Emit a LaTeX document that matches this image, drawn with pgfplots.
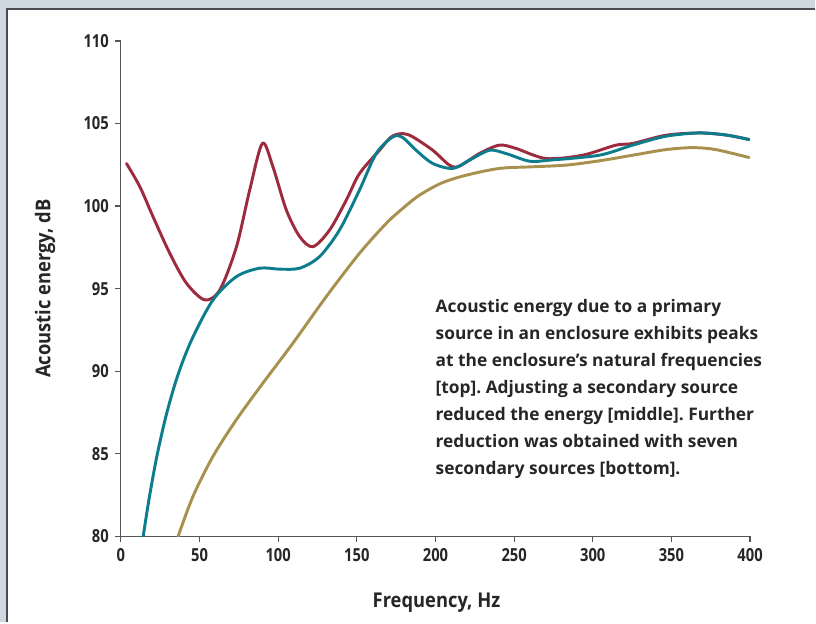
\documentclass[border=0pt]{standalone}
\usepackage{fontspec}
\setmainfont{Open Sans}
\newfontfamily\condfont{Open Sans}[FakeStretch=0.82]
\newfontfamily\labfont{Open Sans}[FakeStretch=0.9]
\usepackage{pgfplots}
\pgfplotsset{compat=1.18}

\definecolor{topred}{HTML}{9E2A3E}
\definecolor{midteal}{HTML}{0C7D8D}
\definecolor{lowgold}{HTML}{A8904E}
\definecolor{framegray}{HTML}{CFD8E1}
\definecolor{framedark}{HTML}{4A4A50}
\definecolor{axisgray}{HTML}{555555}

\begin{document}
\frenchspacing
\begin{tikzpicture}
% panel frame (1px = 0.75pt)
\fill[framegray] (0pt,0pt) rectangle (612pt,-467.25pt);
\fill[white] (5.25pt,-6.75pt) rectangle (612pt,-467.25pt);
\draw[framedark, line width=1.5pt] (5.25pt,-467.25pt) -- (5.25pt,-6.75pt) -- (612pt,-6.75pt);

\begin{axis}[
  at={(90.75pt,-402.75pt)}, anchor=south west,
  scale only axis,
  width=472.5pt, height=372pt,
  xmin=0, xmax=400, ymin=80, ymax=110,
  xtick={0,50,...,400},
  ytick={80,85,...,110},
  axis x line=bottom, axis y line=left,
  axis line style={axisgray, line width=0.9pt, -},
  tick style={axisgray, line width=0.9pt},
  tick align=outside,
  major tick length=4.5pt,
  /pgf/number format/assume math mode=true,
  ticklabel style={font=\condfont\fontsize{13.5}{16}\selectfont\bfseries, text=black!85},
  xticklabel style={yshift=-1pt},
  yticklabel style={xshift=-1pt},
  xlabel={Frequency, Hz},
  ylabel={Acoustic energy, dB},
  label style={font=\labfont\fontsize{15.3}{18}\selectfont\bfseries, text=black!85},
  xlabel style={at={(axis description cs:0.5016,-0.133)}, anchor=center},
  ylabel style={at={(axis description cs:-0.1206,0.5)}, anchor=center},
  clip mode=individual,
  every axis plot/.append style={line width=2.2pt, smooth, tension=0.5, line join=round, line cap=round},
]
% top: primary source only
\addplot[topred] coordinates {
(3.6,102.58) (12.1,101.17) (20.5,99.35) (31.1,97.14) (41.7,95.33) (53.3,94.32)
(62.9,94.92) (73.5,97.54) (81.9,100.97) (90,103.8) (96.7,102.37)
(105.2,99.76) (113.7,98.15) (122.1,97.54) (132.7,98.55) (143.3,100.36)
(151.7,101.97) (164.4,103.38) (172,104.2) (179.2,104.39) (185.6,104.19)
(198.3,103.38) (208.9,102.48) (215.2,102.42) (227.9,103.18) (240.6,103.69)
(251.2,103.49) (270.3,102.88) (293.5,103.08) (314.7,103.69) (325.3,103.79)
(346.5,104.29) (367.6,104.43) (385,104.3) (399.4,104.03)
};
% middle: one secondary source
\addplot[midteal] coordinates {
(14.2,80) (18,82.3) (23,84.9) (29,87.4) (36,89.7) (45,91.9) (58.6,94.32)
(73.5,95.73) (88.3,96.24) (101,96.18) (113.7,96.24) (126.3,96.94)
(139,98.55) (151.7,100.97) (162.3,103.18) (172.9,104.19) (179.2,104.15)
(187.7,103.38) (198.3,102.58) (211,102.28) (221.6,102.78) (234.3,103.38)
(244.9,103.18) (259.7,102.72) (272.4,102.78) (304.1,103.08) (325.3,103.69)
(346.5,104.23) (367.6,104.43) (385,104.3) (399.4,104.03)
};
% bottom: seven secondary sources
\addplot[lowgold] coordinates {
(36.4,80) (45.9,82.43) (58.6,84.85) (73.5,87.07) (90.4,89.29) (109.4,91.7)
(130.6,94.52) (151.7,97.14) (168.7,98.95) (179.2,99.86) (189.8,100.66)
(204,101.4) (219.5,101.87) (240.6,102.28) (261.8,102.38) (283,102.48)
(304.1,102.74) (325.3,103.08) (346.5,103.42) (363.4,103.54) (378.2,103.42)
(399.4,102.94)
};
\node[anchor=north west, align=left, inner sep=0pt, text=black!85,
  font=\fontsize{13}{20.25}\selectfont\bfseries]
  at (axis description cs:0.5,0.479)
  {Acoustic energy due to a primary\\
   source in an enclosure exhibits peaks\\
   at the enclosure’s natural frequencies\\
   {[top]}. Adjusting a secondary source\\
   reduced the energy [middle]. Further\\
   reduction was obtained with seven\\
   secondary sources [bottom].};
\end{axis}
\end{tikzpicture}
\end{document}
